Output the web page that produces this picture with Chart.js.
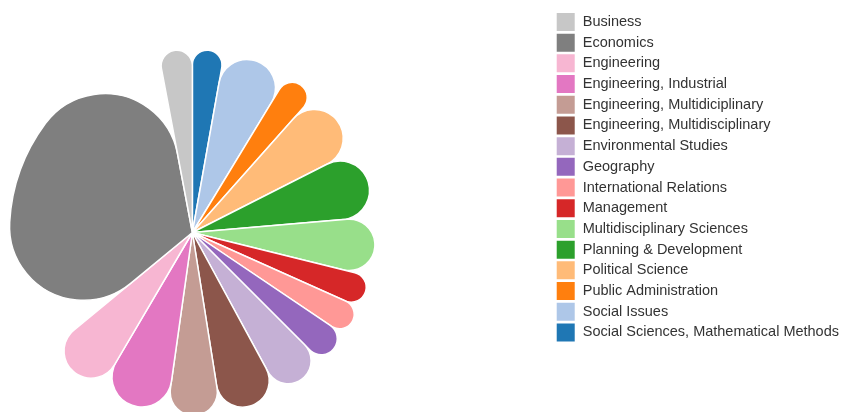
<!DOCTYPE html>
<html>
<head>
<meta charset="utf-8">
<script src="https://cdn.jsdelivr.net/npm/chart.js@4.4.1/dist/chart.umd.min.js"></script>
<style>
    html, body {margin: 0; padding: 0; background: #fff;}
    body {position: relative; width: 842px; height: 412px; overflow: hidden;}
    /* wider than the page so the pie sits left of the legend like the original */
    #chart-wrap {position: absolute; left: -170px; top: 0; width: 1019px; height: 454px;}
</style>
</head>
<body>
<div id="chart-wrap"><canvas id="pie-chart-area"></canvas></div>
<script>
// legend order, top to bottom
var arrLabel = [
    'Business', 'Economics', 'Engineering', 'Engineering, Industrial',
    'Engineering, Multidiciplinary', 'Engineering, Multidisciplinary',
    'Environmental Studies', 'Geography', 'International Relations',
    'Management', 'Multidisciplinary Sciences', 'Planning & Development',
    'Political Science', 'Public Administration', 'Social Issues',
    'Social Sciences, Mathematical Methods'
];
var arrData = [10.7, 118.8, 20, 22.5, 17, 19.5, 16.5, 11, 9.9, 10.2, 18.8, 22, 21.5, 10.3, 21.2, 10.1];
var arrColor = [
    '#c7c7c7', '#7f7f7f', '#f7b6d2', '#e377c2', '#c49c94', '#8c564b',
    '#c5b0d5', '#9467bd', '#ff9896', '#d62728', '#98df8a', '#2ca02c',
    '#ffbb78', '#ff7f0e', '#aec7e8', '#1f77b4'
];

var pieRadius = 183;
var maxCorner = 74;

// arc with corners tangent to both the edge and the rim (d3 style)
class RoseArc extends Chart.ArcElement {
    draw(ctx) {
        var o = this.options;
        var p = this.getProps(['x', 'y', 'startAngle', 'endAngle', 'outerRadius']);
        var a0 = p.startAngle;
        var a1 = p.endAngle;
        var R = p.outerRadius;
        var da = a1 - a0;
        var rc = Math.min(o.borderRadius || 0, R / 2);
        if (da < Math.PI) {
            var s = Math.sin(da / 2);
            rc = Math.min(rc, R * s / (1 + s));
        }
        var d = R - rc;
        var phi = Math.asin(Math.min(1, rc / d));
        var len = Math.sqrt(Math.max(0, d * d - rc * rc));
        ctx.save();
        ctx.beginPath();
        ctx.moveTo(p.x, p.y);
        ctx.lineTo(p.x + len * Math.cos(a0), p.y + len * Math.sin(a0));
        ctx.arc(p.x + d * Math.cos(a0 + phi), p.y + d * Math.sin(a0 + phi), rc, a0 - Math.PI / 2, a0 + phi);
        ctx.arc(p.x, p.y, R, a0 + phi, a1 - phi);
        ctx.arc(p.x + d * Math.cos(a1 - phi), p.y + d * Math.sin(a1 - phi), rc, a1 - phi, a1 + Math.PI / 2);
        ctx.closePath();
        ctx.fillStyle = o.backgroundColor;
        ctx.fill();
        if (o.borderWidth) {
            ctx.lineJoin = 'round';
            ctx.lineWidth = o.borderWidth;
            ctx.strokeStyle = o.borderColor;
            ctx.stroke();
        }
        ctx.restore();
    }
}
RoseArc.id = 'roseArc';

class RosePieController extends Chart.PieController {}
RosePieController.id = 'rosePie';
RosePieController.defaults = {dataElementType: 'roseArc'};

Chart.register(RoseArc, RosePieController);

renderPie();

function renderPie() {
    // slices run clockwise from the top, so the dataset goes in reverse
    var pieLabel = arrLabel.slice().reverse();
    var pieData = arrData.slice().reverse();
    var pieColor = arrColor.slice().reverse();

    var configPie = {
        type: 'rosePie',
        data: {
            labels: pieLabel,
            datasets: [{
                data: pieData,
                backgroundColor: pieColor,
                borderColor: '#fff',
                borderWidth: 1.5,
                borderRadius: maxCorner
            }]
        },
        options: {
            responsive: true,
            maintainAspectRatio: false,
            animation: false,
            radius: pieRadius,
            layout: {
                padding: {left: 0, top: 11, right: 0, bottom: 0}
            },
            plugins: {
                tooltip: {enabled: false},
                legend: {
                    position: 'right',
                    align: 'start',
                    reverse: true,
                    labels: {
                        boxWidth: 19.5,
                        boxHeight: 19.5,
                        padding: 1.2,
                        color: '#333',
                        font: {family: "'Liberation Sans', Arial, sans-serif", size: 14.5}
                    }
                }
            }
        }
    };
    var myChartPie = document.getElementById("pie-chart-area").getContext("2d");
    var myPie = new Chart(myChartPie, configPie);
}
</script>
</body>
</html>
